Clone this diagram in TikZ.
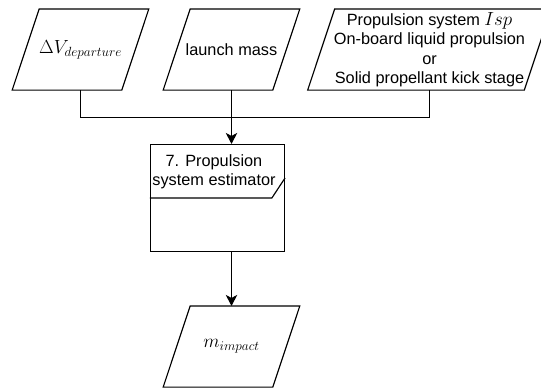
\RequirePackage{fix-cm}
\documentclass[tikz,border=0pt]{standalone}
\usepackage{fontspec}
\setmainfont{Liberation Sans}
\usetikzlibrary{arrows.meta}

% slanted data box drawn around a rectangular node
\newcommand\dataframe[1]{%
  \draw ([xshift=13.5pt]#1.north west) -- ([xshift=13.5pt]#1.north east)
     -- ([xshift=-13.5pt]#1.south east) -- ([xshift=-13.5pt]#1.south west) -- cycle;}
% formulas are set somewhat larger than the plain labels
\newcommand\bigmath[1]{{\fontsize{19}{19.4}\selectfont$#1$}}

\begin{document}
\begin{tikzpicture}[x=1pt,y=-1pt,
  line width=1.15pt,
  every node/.style={font=\fontsize{16.3}{19.4}\selectfont, inner sep=0pt, align=center},
  databox/.style={minimum width=108.5pt, minimum height=80pt},
  arr/.style={-{Stealth[length=11pt,width=11.5pt,inset=3pt]}}
]
\clip (0,0) rectangle (541,389);

% inputs
\node[databox] (dv) at (80.5,49.5) {\bigmath{\Delta V_{departure}}};
\node[databox] (lm) at (231.5,49.5) {launch mass};
\node[databox, minimum width=215.5pt] (isp) at (429.5,49.5)
  {Propulsion system \bigmath{Isp}\\On-board liquid propulsion\\or\\Solid propellant kick stage};
\dataframe{dv}
\dataframe{lm}
\dataframe{isp}

% estimator block with its label tab
\node[draw, minimum width=134pt, minimum height=107pt] (proc) at (217.5,198) {};
\draw ([yshift=-54pt]proc.north west) -- ++(122,0) -- ([yshift=-34pt]proc.north east);
\node (proclabel) at (214,171.5) {7. Propulsion\\system estimator};

% output
\node[databox] (mi) at (231.5,346.5) {\bigmath{m_{impact}}};
\dataframe{mi}

% connectors
\coordinate (join) at (lm.south |- 0,117.5);
\draw (dv.south) |- (join);
\draw (isp.south) |- (join);
\draw[arr] (lm.south) -- (lm.south |- proc.north);
\draw[arr] (mi.north |- proc.south) -- (mi.north);
\end{tikzpicture}
\end{document}
